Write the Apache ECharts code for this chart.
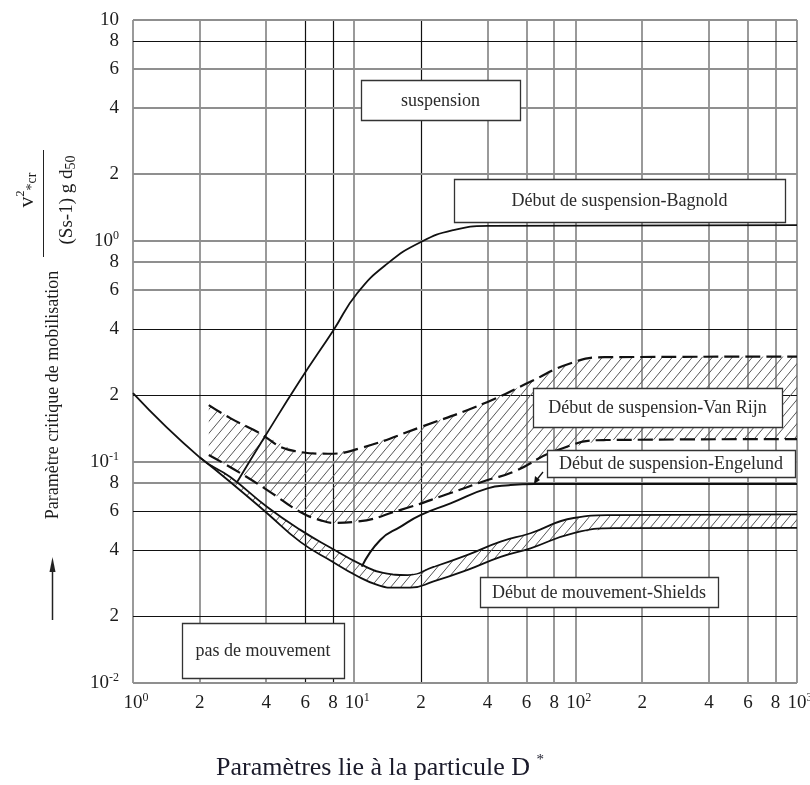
<!DOCTYPE html>
<html>
<head>
<meta charset="utf-8">
<script src="https://cdn.jsdelivr.net/npm/echarts@6/dist/echarts.min.js"></script>
<style>
  html, body { margin: 0; padding: 0; background: #fff; }
  #chart { width: 810px; height: 785px; }
</style>
</head>
<body>
<div id="chart"></div>
<script>
// Axis ticks (log-log diagram, D* on x, critical mobility parameter on y)
const xTicks = [1, 2, 4, 6, 8, 10, 20, 40, 60, 80, 100, 200, 400, 600, 800, 1000];
const xTickLabels = ['10^0', '2', '4', '6', '8', '10^1', '2', '4', '6', '8', '10^2', '2', '4', '6', '8', '10^3'];
const yTicks = [0.01, 0.02, 0.04, 0.06, 0.08, 0.1, 0.2, 0.4, 0.6, 0.8, 1, 2, 4, 6, 8, 10];
const yTickLabels = ['10^-2', '2', '4', '6', '8', '10^-1', '2', '4', '6', '8', '10^0', '2', '4', '6', '8', '10'];
// grid lines printed heavier
const xGridDark = [6, 8, 20];
const yGridDark = [0.02, 0.04, 0.06, 0.2, 0.4, 8];

// Début de mouvement - Shields (band between two solid curves)
const shieldsUpperD = [1, 2, 2.75, 4.04, 5.7, 8, 10.6, 13.5, 17.4, 22.8, 32.5, 45.8, 62.5, 98, 144, 1000];
const shieldsUpperV = [0.205, 0.105, 0.0855, 0.0626, 0.0493, 0.0404, 0.0346, 0.0315, 0.0308, 0.0335, 0.038, 0.0436, 0.0476, 0.0558, 0.0575, 0.058];
const shieldsLowerD = [2, 2.75, 4, 5.7, 8, 10.1, 12.7, 15.3, 17.9, 22.8, 32.5, 45.8, 62.5, 98, 150, 1000];
const shieldsLowerV = [0.105, 0.0812, 0.0591, 0.0435, 0.0353, 0.0308, 0.0278, 0.027, 0.027, 0.0288, 0.0325, 0.0372, 0.0407, 0.0477, 0.0502, 0.0503];

// Début de suspension - Van Rijn (band between two dashed curves)
const vrUpperD = [2.2, 2.75, 3.5, 5.4, 7.6, 10.5, 20, 40, 62, 95, 135, 1000];
const vrUpperV = [0.181, 0.158, 0.14, 0.112, 0.109, 0.115, 0.144, 0.187, 0.23, 0.28, 0.298, 0.3];
const vrLowerD = [2.2, 3.05, 4.17, 5.7, 7.0, 8.2, 9.9, 16.2, 27.2, 40, 52, 83, 134, 1000];
const vrLowerV = [0.1076, 0.0892, 0.0731, 0.0594, 0.0546, 0.053, 0.0535, 0.0607, 0.0724, 0.0829, 0.09, 0.1133, 0.1257, 0.127];

// Début de suspension - Engelund
const engelundD = [10.8, 13.1, 16.2, 19.9, 27.2, 40, 50, 65, 1000];
const engelundV = [0.0336, 0.0444, 0.051, 0.0575, 0.065, 0.076, 0.0785, 0.0795, 0.0795];

// Début de suspension - Bagnold
const bagnoldD = [2.95, 3.9, 5.7, 8.06, 10.3, 14.1, 20, 28, 40, 1000];
const bagnoldV = [0.081, 0.128, 0.235, 0.396, 0.58, 0.79, 0.99, 1.12, 1.17, 1.18];

const SERIF = '"Liberation Serif", "DejaVu Serif", serif';
const TEXT = '#1c1c1c';

const measureCtx = document.createElement('canvas').getContext('2d');
function textWidth(str, font) {
  measureCtx.font = font;
  return measureCtx.measureText(str).width;
}

// diagonal hatching tile
function makeHatch() {
  const w = 10, h = 12;
  const c = document.createElement('canvas');
  c.width = w; c.height = h;
  const g = c.getContext('2d');
  g.strokeStyle = '#555';
  g.lineWidth = 1;
  g.beginPath();
  g.moveTo(-w, 2 * h); g.lineTo(2 * w, -h);
  g.moveTo(-2 * w, 2 * h); g.lineTo(w, -h);
  g.moveTo(0, 2 * h); g.lineTo(3 * w, -h);
  g.stroke();
  return c;
}
const hatchTile = makeHatch();

function pairs(ds, vs) { return ds.map((d, i) => [d, vs[i]]); }

function tickRich(label) {
  const parts = label.split('^');
  return parts.length === 2 ? '{b|' + parts[0] + '}{s|' + parts[1] + '}' : '{b|' + label + '}';
}
const tickFontSize = 19;
const tickRichStyle = {
  b: { fontSize: tickFontSize, fontFamily: SERIF, fill: TEXT, lineHeight: 22 },
  s: { fontSize: 12, fontFamily: SERIF, fill: TEXT, verticalAlign: 'top', lineHeight: 12 }
};

function renderGrid(params, api) {
  const cs = params.coordSys;
  const children = [];
  const top = cs.y, bottom = cs.y + cs.height, left = cs.x, right = cs.x + cs.width;
  xTicks.forEach((v) => {
    const dark = xGridDark.indexOf(v) >= 0;
    const x = Math.round(api.coord([v, 1])[0]) + (dark ? 0.5 : 0);
    children.push({
      type: 'line',
      shape: { x1: x, y1: top, x2: x, y2: bottom },
      style: dark ? { stroke: '#111', lineWidth: 1.2 } : { stroke: '#8f8f8f', lineWidth: 1.8 }
    });
  });
  yTicks.forEach((v) => {
    const dark = yGridDark.indexOf(v) >= 0;
    const y = Math.round(api.coord([1, v])[1]) + (dark ? 0.5 : 0);
    children.push({
      type: 'line',
      shape: { x1: left, y1: y, x2: right, y2: y },
      style: dark ? { stroke: '#111', lineWidth: 1.2 } : { stroke: '#8f8f8f', lineWidth: 1.8 }
    });
  });
  // tick labels
  const baseFont = tickFontSize + 'px ' + SERIF;
  xTicks.forEach((v, i) => {
    const x = api.coord([v, 1])[0];
    const lab = xTickLabels[i];
    const base = lab.split('^')[0];
    children.push({
      type: 'text',
      style: {
        text: tickRich(lab), x: x - textWidth(base, baseFont) / 2, y: bottom + 20,
        align: 'left', verticalAlign: 'middle', rich: tickRichStyle
      }
    });
  });
  yTicks.forEach((v, i) => {
    const y = api.coord([1, v])[1];
    children.push({
      type: 'text',
      style: {
        text: tickRich(yTickLabels[i]), x: left - 14, y: y,
        align: 'right', verticalAlign: 'middle', rich: tickRichStyle
      }
    });
  });
  return { type: 'group', children: children };
}

function bandRenderer(upD, upV, loD, loV) {
  return function (params, api) {
    const pts = [];
    const start = loD[0];
    upD.forEach((d, i) => { if (d >= start) pts.push(api.coord([d, upV[i]])); });
    for (let i = loD.length - 1; i >= 0; i--) pts.push(api.coord([loD[i], loV[i]]));
    return {
      type: 'polygon',
      shape: { points: pts },
      style: { fill: { image: hatchTile, repeat: 'repeat' }, stroke: null }
    };
  };
}

function curve(name, ds, vs, dashed, width) {
  return {
    type: 'line', name: name, z: 3, data: pairs(ds, vs),
    symbol: 'none', smooth: 0.5, silent: true,
    lineStyle: { color: '#111', width: width || 1.7, type: dashed ? [15, 6] : 'solid' }
  };
}

function box(x1, y1, x2, y2, label, size) {
  return {
    type: 'group', z: 100,
    children: [
      { type: 'rect', z: 100, shape: { x: x1 + 0.5, y: y1 + 0.5, width: x2 - x1, height: y2 - y1 },
        style: { fill: '#fff', stroke: '#333', lineWidth: 1.3 } },
      { type: 'text', z: 101, x: (x1 + x2) / 2, y: (y1 + y2) / 2 + 1,
        style: { text: label, font: (size || 18) + 'px ' + SERIF, fill: '#2a2a2a', align: 'center', verticalAlign: 'middle' } }
    ]
  };
}

const chart = echarts.init(document.getElementById('chart'), null, { renderer: 'canvas' });
chart.setOption({
  animation: false,
  backgroundColor: '#fff',
  grid: { left: 133, top: 20, width: 664, height: 663, show: false },
  xAxis: {
    type: 'log', logBase: 10, min: 1, max: 1000,
    axisLine: { show: false }, axisTick: { show: false }, axisLabel: { show: false }, splitLine: { show: false }
  },
  yAxis: {
    type: 'log', logBase: 10, min: 0.01, max: 10,
    axisLine: { show: false }, axisTick: { show: false }, axisLabel: { show: false }, splitLine: { show: false }
  },
  series: [
    { type: 'custom', name: 'grille', z: 1, silent: true, data: [[1, 1]], renderItem: renderGrid },
    { type: 'custom', name: 'bande Van Rijn', z: 2, silent: true, data: [[1, 1]],
      renderItem: bandRenderer(vrUpperD, vrUpperV, vrLowerD, vrLowerV) },
    { type: 'custom', name: 'bande Shields', z: 2, silent: true, data: [[1, 1]],
      renderItem: bandRenderer(shieldsUpperD, shieldsUpperV, shieldsLowerD, shieldsLowerV) },
    curve('Shields (haut)', shieldsUpperD, shieldsUpperV, false, 1.8),
    curve('Shields (bas)', shieldsLowerD, shieldsLowerV, false, 1.8),
    curve('Van Rijn (haut)', vrUpperD, vrUpperV, true, 2.2),
    curve('Van Rijn (bas)', vrLowerD, vrLowerV, true, 2.2),
    curve('Engelund', engelundD, engelundV, false, 2.0),
    curve('Bagnold', bagnoldD, bagnoldV, false, 1.8)
  ],
  graphic: [
    box(361, 80, 520, 120, 'suspension'),
    box(454, 179, 785, 222, 'Début de suspension-Bagnold'),
    box(533, 388, 782, 427, 'Début de suspension-Van Rijn'),
    box(547, 450, 795, 477, 'Début de suspension-Engelund'),
    box(480, 577, 718, 607, 'Début de mouvement-Shields'),
    box(182, 623, 344, 678, 'pas de mouvement'),
    // pointer from the Engelund label to its curve
    { type: 'polyline', z: 102, shape: { points: [[543, 472], [535, 482]] }, style: { stroke: '#111', lineWidth: 1.3, fill: null } },
    { type: 'polygon', z: 102, shape: { points: [[534, 484], [535, 476], [540, 480]] }, style: { fill: '#111' } },
    // y-axis title
    { type: 'text', z: 50, x: 53, y: 395, rotation: Math.PI / 2,
      style: { text: 'Paramètre critique de mobilisation', font: '18px ' + SERIF, fill: TEXT, align: 'center', verticalAlign: 'middle' } },
    { type: 'line', z: 50, shape: { x1: 43.5, y1: 150, x2: 43.5, y2: 257 }, style: { stroke: '#222', lineWidth: 1 } },
    { type: 'text', z: 50, x: 27, y: 190, rotation: Math.PI / 2,
      style: {
        text: '{v|v}{p|2}{q|*cr}', align: 'center', verticalAlign: 'middle',
        rich: {
          v: { fontSize: 22, fontFamily: SERIF, fill: TEXT, lineHeight: 24 },
          p: { fontSize: 12, fontFamily: SERIF, fill: TEXT, verticalAlign: 'top', lineHeight: 12 },
          q: { fontSize: 14, fontFamily: SERIF, fill: TEXT, verticalAlign: 'bottom', lineHeight: 14 }
        }
      } },
    { type: 'text', z: 50, x: 67, y: 200, rotation: Math.PI / 2,
      style: {
        text: '{a|(Ss-1) g d}{b|50}', align: 'center', verticalAlign: 'middle',
        rich: {
          a: { fontSize: 19, fontFamily: SERIF, fill: TEXT, lineHeight: 22 },
          b: { fontSize: 14, fontFamily: SERIF, fill: TEXT, verticalAlign: 'bottom', lineHeight: 14 }
        }
      } },
    // upward arrow next to the y title
    { type: 'line', z: 50, shape: { x1: 52.5, y1: 620, x2: 52.5, y2: 568 }, style: { stroke: '#222', lineWidth: 1.5 } },
    { type: 'polygon', z: 50, shape: { points: [[52.5, 557], [49.5, 572], [55.5, 572]] }, style: { fill: '#222' } },
    // x-axis title
    { type: 'text', z: 50, x: 380, y: 768,
      style: {
        text: '{a|Paramètres lie à la particule D }{b|*}', align: 'center', verticalAlign: 'middle',
        rich: {
          a: { fontSize: 26, fontFamily: SERIF, fill: '#1a1a2a', lineHeight: 30 },
          b: { fontSize: 15, fontFamily: SERIF, fill: '#1a1a2a', verticalAlign: 'top', lineHeight: 15 }
        }
      } }
  ]
});
</script>
</body>
</html>
